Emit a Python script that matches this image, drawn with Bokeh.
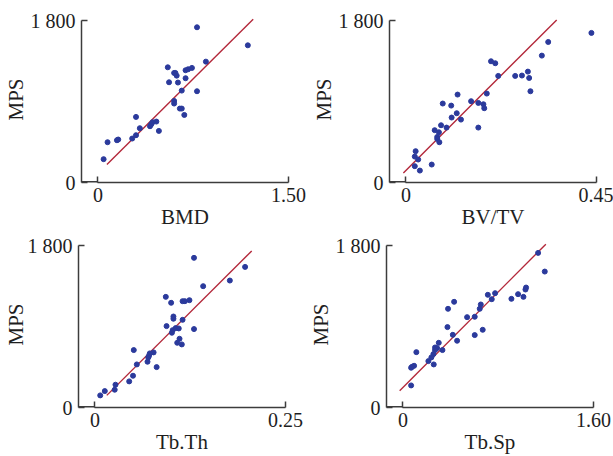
from bokeh.plotting import figure
from bokeh.layouts import column, row
from bokeh.models import FixedTicker, Range1d
from bokeh.embed import file_html
from bokeh.resources import INLINE

# ---------------- data ----------------
bmd = [0.78, 1.18, 0.85, 0.55, 0.60, 0.61, 0.62, 0.69, 0.71, 0.74, 0.56, 0.63, 0.69, 0.66, 0.78,
       0.60, 0.60, 0.645, 0.66, 0.68, 0.30, 0.46, 0.43, 0.42, 0.41, 0.33, 0.48, 0.30, 0.27, 0.16,
       0.15, 0.076, 0.045]
mps_bmd = [1730, 1529, 1347, 1284, 1221, 1221, 1191, 1251, 1262, 1277, 1117, 1114, 1162, 1024, 1017,
           909, 880, 824, 824, 753, 731, 679, 672, 649, 627, 605, 575, 527, 490, 479,
           471, 449, 260]

bvtv = [0.438, 0.336, 0.321, 0.201, 0.211, 0.218, 0.258, 0.274, 0.288, 0.291, 0.294, 0.191, 0.122,
        0.087, 0.107, 0.154, 0.171, 0.183, 0.185, 0.120, 0.108, 0.130, 0.083, 0.096, 0.171, 0.068,
        0.078, 0.074, 0.074, 0.079, 0.023, 0.021, 0.029, 0.021, 0.061, 0.033]
mps_bvtv = [1667, 1566, 1414, 1351, 1329, 1188, 1188, 1192, 1236, 1165, 1017, 991, 980,
            880, 857, 906, 887, 872, 828, 772, 724, 701, 638, 612, 612, 583,
            560, 508, 486, 449, 349, 289, 256, 182, 200, 133]

tbth = [0.130, 0.197, 0.177, 0.142, 0.093, 0.100, 0.115, 0.118, 0.124, 0.103, 0.103, 0.115, 0.094,
        0.130, 0.102, 0.101, 0.106, 0.110, 0.111, 0.108, 0.114, 0.051, 0.077, 0.072, 0.071, 0.070,
        0.069, 0.055, 0.081, 0.050, 0.045, 0.027, 0.026, 0.013, 0.007]
mps_tbth = [1668, 1567, 1415, 1352, 1233, 1167, 1185, 1185, 1196, 1014, 989, 977, 907,
            874, 862, 833, 885, 881, 766, 721, 703, 640, 614, 603, 577, 558,
            510, 480, 450, 354, 291, 254, 198, 183, 135]

tbsp = [1.135, 1.191, 1.034, 1.029, 0.967, 1.012, 0.911, 0.774, 0.713, 0.746, 0.654, 0.645, 0.430,
        0.379, 0.539, 0.603, 0.374, 0.670, 0.603, 0.419, 0.455, 0.301, 0.332, 0.270, 0.287, 0.270,
        0.113, 0.256, 0.239, 0.214, 0.259, 0.094, 0.077, 0.069, 0.069]
mps_tbsp = [1723, 1515, 1337, 1315, 1263, 1233, 1211, 1274, 1256, 1207, 1148, 1100, 1178,
            1100, 1007, 1011, 896, 866, 807, 810, 744, 721, 640, 669, 662, 640,
            617, 595, 558, 517, 480, 465, 454, 443, 246]

# regression lines: [x start, x end], slope, intercept
reg_bmd = ([0.071, 1.222], 1407, 100)
reg_bvtv = ([-0.006, 0.356], 4716, 133)
reg_tbth = ([0.0156, 0.2057], 8469, 3)
reg_tbsp = ([-0.027, 1.20], 1332, 222)

x_labels = ["BMD", "BV/TV", "Tb.Th", "Tb.Sp"]
x_max = [1.5, 0.45, 0.25, 1.6]
x_max_text = ["1.50", "0.45", "0.25", "1.60"]
y_label = "MPS"
y_max = 1800
y_max_text = "1 800"

# ---------------- styling ----------------
AXIS_COLOR = "#3c3c3c"
TEXT_COLOR = "#1e1e1e"
DOT_COLOR = "#2b3a9c"
LINE_COLOR = "#b3283a"
FONT = "Liberation Serif"


def panel(xs, ys, xmax, xmax_text, xlabel, reg, left_b, right_b, top_b, bottom_b, ylab_standoff):
    x0 = -0.086 * xmax
    p = figure(frame_width=207, frame_height=166,
               x_range=Range1d(x0, xmax), y_range=Range1d(0, 1850),
               output_backend="svg", toolbar_location=None,
               min_border_left=left_b, min_border_right=right_b,
               min_border_top=top_b, min_border_bottom=bottom_b,
               background_fill_color="white", border_fill_color="white")
    p.outline_line_color = None
    p.xgrid.grid_line_color = None
    p.ygrid.grid_line_color = None

    for ax in p.axis:
        ax.axis_line_color = AXIS_COLOR
        ax.axis_line_width = 1.5
        ax.major_tick_line_color = AXIS_COLOR
        ax.major_tick_line_width = 1.5
        ax.major_tick_in = 6
        ax.major_tick_out = 0
        ax.minor_tick_line_color = None
        ax.major_label_text_font = FONT
        ax.major_label_text_font_size = "20px"
        ax.major_label_text_color = TEXT_COLOR
        ax.axis_label_text_font = FONT
        ax.axis_label_text_font_size = "21px"
        ax.axis_label_text_font_style = "normal"
        ax.axis_label_text_color = TEXT_COLOR
        ax.major_label_standoff = 5

    p.xaxis.ticker = FixedTicker(ticks=[0, xmax])
    p.xaxis.major_label_overrides = {0: "0", xmax: xmax_text}
    p.xaxis.bounds = (0, xmax)
    p.xaxis.axis_label = xlabel
    p.xaxis.axis_label_standoff = 0

    p.yaxis.ticker = FixedTicker(ticks=[0, y_max])
    p.yaxis.major_label_overrides = {0: "0", y_max: y_max_text}
    p.yaxis.bounds = (0, y_max)
    p.yaxis.axis_label = y_label
    p.yaxis.axis_label_standoff = ylab_standoff
    p.yaxis.major_label_standoff = 6

    # short stretch of the x axis line between the y axis and x = 0
    p.segment(x0=[x0], y0=[0], x1=[0], y1=[0], line_color=AXIS_COLOR, line_width=3)

    rx, slope, icpt = reg
    ry = [slope * v + icpt for v in rx]
    p.line(rx, ry, line_color=LINE_COLOR, line_width=1.4)
    p.scatter(xs, ys, size=5, fill_color=DOT_COLOR, line_color=DOT_COLOR)
    return p


p1 = panel(bmd, mps_bmd, x_max[0], x_max_text[0], x_labels[0], reg_bmd, 75, 20, 16, 51, 0)
p2 = panel(bvtv, mps_bvtv, x_max[1], x_max_text[1], x_labels[1], reg_bvtv, 76, 17, 16, 51, 0)
p3 = panel(tbth, mps_tbth, x_max[2], x_max_text[2], x_labels[2], reg_tbth, 71, 20, 8, 48, -3)
p4 = panel(tbsp, mps_tbsp, x_max[3], x_max_text[3], x_labels[3], reg_tbsp, 79, 18, 8, 48, 0)

layout = column(row(p1, p2), row(p3, p4))

open("out.html", "w").write(file_html(layout, INLINE))
